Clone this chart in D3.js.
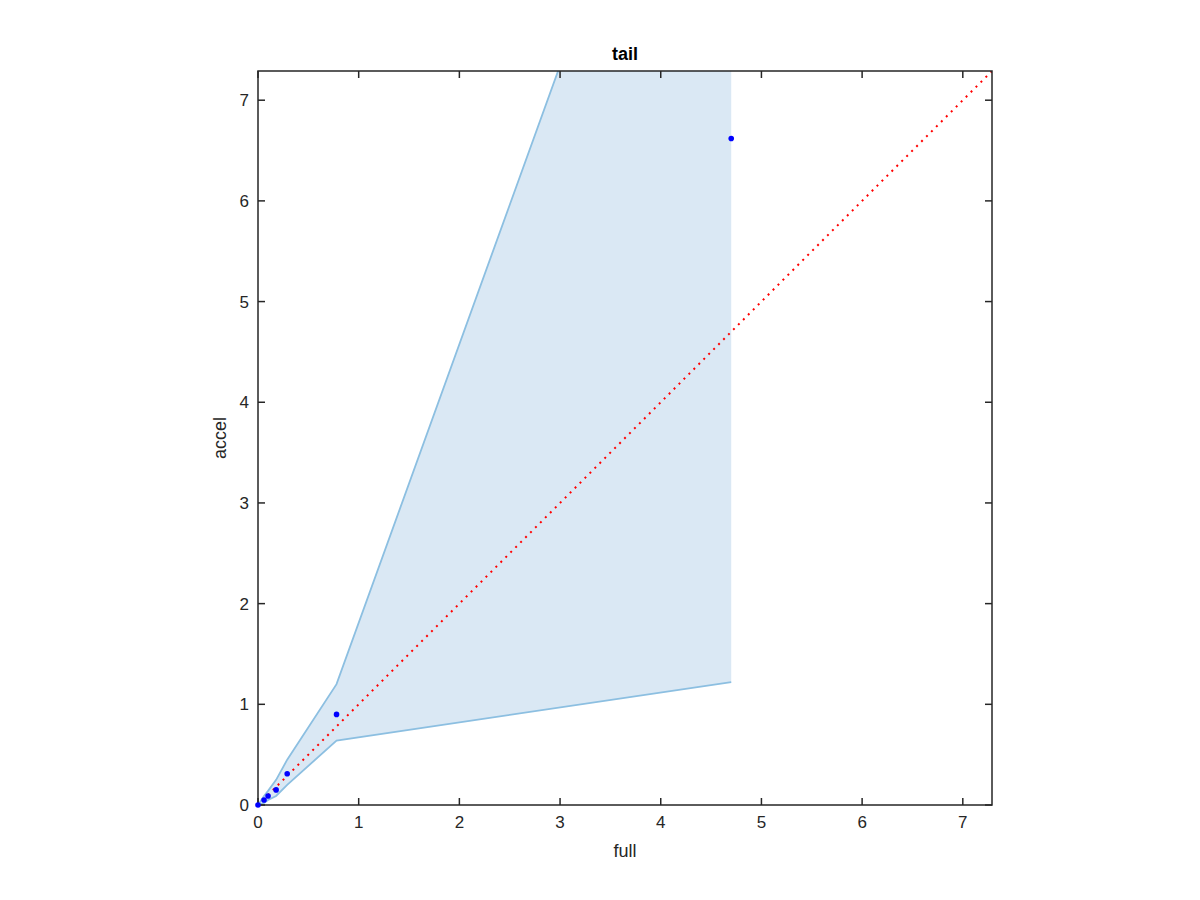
<!DOCTYPE html>
<html>
<head>
<meta charset="utf-8">
<script src="https://cdn.jsdelivr.net/npm/d3@7"></script>
<style>
  body { margin: 0; background: #fff; }
  text { font-family: "Liberation Sans", Arial, sans-serif; }
</style>
</head>
<body>
<div id="chart"></div>
<script>
// points (full vs accel)
var fullVals  = [0, 0.06, 0.10, 0.18, 0.29, 0.78, 4.70];
var accelVals = [0, 0.05, 0.09, 0.15, 0.31, 0.90, 6.62];
// band edges
var bandX     = [0, 0.06, 0.10, 0.18, 0.29, 0.78, 4.70];
var bandUpper = [0, 0.09, 0.14, 0.25, 0.45, 1.20, 12.05];
var bandLower = [0, 0.02, 0.05, 0.09, 0.20, 0.64, 1.22];
var ticks = [0, 1, 2, 3, 4, 5, 6, 7];
var axMax = 7.29;

var margin = { top: 71, right: 208, bottom: 95, left: 258 },
    width = 1200 - margin.left - margin.right,
    height = 900 - margin.top - margin.bottom;

var svg = d3.select('#chart').append('svg')
    .attr('width', 1200)
    .attr('height', 900)
  .append('g')
    .attr('transform', 'translate(' + margin.left + ',' + margin.top + ')');

var x = d3.scaleLinear().domain([0, axMax]).range([0, width]);
var y = d3.scaleLinear().domain([0, axMax]).range([height, 0]);

svg.append('clipPath').attr('id', 'clip')
  .append('rect').attr('width', width).attr('height', height);

var plot = svg.append('g').attr('clip-path', 'url(#clip)');

var bandPts = bandX.map((d, i) => [d, bandUpper[i]])
  .concat(bandX.map((d, i) => [d, bandLower[i]]).reverse());

plot.append('path')
    .datum(bandPts)
    .attr('d', d3.line().x(d => x(d[0])).y(d => y(d[1])))
    .attr('fill', '#dae8f4')
    .attr('stroke', 'none');

// edges, but not the vertical right side
var edge = d3.line().x(d => x(d[0])).y(d => y(d[1]));
plot.append('path')
    .datum(bandX.map((d, i) => [d, bandUpper[i]]))
    .attr('d', edge).attr('fill', 'none')
    .attr('stroke', '#8cbfe1').attr('stroke-width', 1.8);
plot.append('path')
    .datum(bandX.map((d, i) => [d, bandLower[i]]))
    .attr('d', edge).attr('fill', 'none')
    .attr('stroke', '#8cbfe1').attr('stroke-width', 1.8);

// y = x reference
plot.append('line')
    .attr('x1', x(0)).attr('y1', y(0))
    .attr('x2', x(axMax)).attr('y2', y(axMax))
    .attr('stroke', '#ff0000').attr('stroke-width', 2)
    .attr('stroke-dasharray', '2,5');

// box + inward ticks
var axCol = '#262626';
svg.append('rect').attr('width', width).attr('height', height)
    .attr('fill', 'none').attr('stroke', axCol).attr('stroke-width', 1.5);

var tl = 7;
ticks.forEach(t => {
  svg.append('line').attr('x1', x(t)).attr('x2', x(t)).attr('y1', height).attr('y2', height - tl)
     .attr('stroke', axCol).attr('stroke-width', 1.5);
  svg.append('line').attr('x1', x(t)).attr('x2', x(t)).attr('y1', 0).attr('y2', tl)
     .attr('stroke', axCol).attr('stroke-width', 1.5);
  svg.append('line').attr('y1', y(t)).attr('y2', y(t)).attr('x1', 0).attr('x2', tl)
     .attr('stroke', axCol).attr('stroke-width', 1.5);
  svg.append('line').attr('y1', y(t)).attr('y2', y(t)).attr('x1', width).attr('x2', width - tl)
     .attr('stroke', axCol).attr('stroke-width', 1.5);
  svg.append('text').attr('x', x(t)).attr('y', height + 23)
     .attr('text-anchor', 'middle').attr('font-size', 17).attr('fill', axCol).text(t);
  svg.append('text').attr('x', -9).attr('y', y(t) + 6)
     .attr('text-anchor', 'end').attr('font-size', 17).attr('fill', axCol).text(t);
});

// markers drawn unclipped, on top
svg.selectAll('.pt')
    .data(fullVals)
    .enter()
    .append('circle')
      .attr('cx', d => x(d))
      .attr('cy', (d, i) => y(accelVals[i]))
      .attr('r', 2.8)
      .attr('fill', '#0000ff');

svg.append('text').attr('x', width / 2).attr('y', height + 52)
    .attr('text-anchor', 'middle').attr('font-size', 18).attr('fill', axCol).text('full');
svg.append('text')
    .attr('transform', 'translate(' + (-32) + ',' + (height / 2) + ') rotate(-90)')
    .attr('text-anchor', 'middle').attr('font-size', 18).attr('fill', axCol).text('accel');
svg.append('text').attr('x', width / 2).attr('y', -11)
    .attr('text-anchor', 'middle').attr('font-size', 18).attr('font-weight', 'bold')
    .attr('fill', '#000').text('tail');
</script>
</body>
</html>
